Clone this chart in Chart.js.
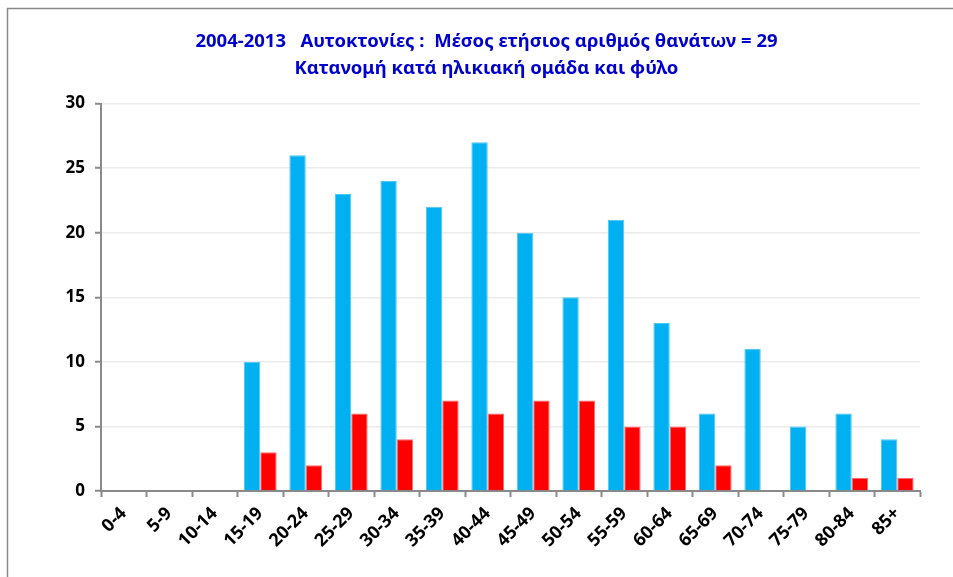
<!DOCTYPE html>
<html>
<head>
<meta charset="utf-8">
<script src="https://cdn.jsdelivr.net/npm/chart.js@4"></script>
<style>
html,body{margin:0;padding:0;background:#fff;}
#wrap{width:953px;height:577px;position:relative;}
</style>
</head>
<body>
<div id="wrap"><canvas id="c" width="953" height="577"></canvas></div>
<script>
const ageGroups = ["0-4","5-9","10-14","15-19","20-24","25-29","30-34","35-39","40-44","45-49","50-54","55-59","60-64","65-69","70-74","75-79","80-84","85+"];
const males   = [0,0,0,10,26,23,24,22,27,20,15,21,13,6,11,5,6,4];
const females = [0,0,0,3,2,6,4,7,6,7,7,5,5,2,0,0,1,1];
const yTicks = [0,5,10,15,20,25,30];
const titleLines = ["2004-2013   Αυτοκτονίες :  Μέσος ετήσιος αριθμός θανάτων = 29","Κατανομή κατά ηλικιακή ομάδα και φύλο"];

const FONT = "'Noto Sans', 'DejaVu Sans', sans-serif";

const framePlugin = {
  id: 'frame',
  beforeDraw(chart) {
    const ctx = chart.ctx;
    ctx.save();
    ctx.fillStyle = '#fff';
    ctx.fillRect(0,0,chart.width,chart.height);
    ctx.strokeStyle = '#8a8a8a';
    ctx.lineWidth = 1.5;
    ctx.strokeRect(7.5, 8.5, 2000, 2000);
    ctx.restore();
  }
};

new Chart(document.getElementById('c'), {
  type: 'bar',
  data: {
    labels: ageGroups,
    datasets: [
      { label: 'Άνδρες', data: males, backgroundColor: '#00B0F0', borderColor: '#4cc8f4', borderWidth: 1, barPercentage: 1.0, categoryPercentage: 0.72 },
      { label: 'Γυναίκες', data: females, backgroundColor: '#FF0000', borderColor: '#ff6a6a', borderWidth: 1, barPercentage: 1.0, categoryPercentage: 0.72 }
    ]
  },
  options: {
    responsive: false,
    animation: false,
    devicePixelRatio: 1,
    layout: { padding: { left: 53, right: 33, top: 0, bottom: 0 } },
    plugins: {
      legend: { display: false },
      tooltip: { enabled: false },
      title: {
        display: true,
        text: titleLines,
        color: '#0000CC',
        font: { family: FONT, size: 18.5, weight: 'bold', lineHeight: 1.42 },
        padding: { top: 29, bottom: 22 }
      }
    },
    scales: {
      x: {
        grid: { display: true, drawOnChartArea: false, drawTicks: true, tickLength: 6, tickColor: '#8a8a8a', tickWidth: 2, offset: true },
        border: { display: true, color: '#8a8a8a', width: 2 },
        ticks: {
          color: '#000', maxRotation: 45, minRotation: 45, autoSkip: false, padding: 6,
          font: { family: FONT, size: 18, weight: 'bold' }
        },
        afterFit(scale) { scale.height = 86; }
      },
      y: {
        min: 0, max: 30,
        afterBuildTicks(scale) { scale.ticks = yTicks.map(v => ({ value: v })); },
        grid: { color: '#ececec', lineWidth: 1.5, drawTicks: true, tickLength: 6, tickColor: '#8a8a8a', tickWidth: 2 },
        border: { display: true, color: '#8a8a8a', width: 2 },
        ticks: {
          color: '#000', padding: 10,
          font: { family: FONT, size: 17, weight: 'bold' }
        },
        afterFit(scale) { scale.width = 48; }
      }
    }
  },
  plugins: [framePlugin]
});
</script>
</body>
</html>
